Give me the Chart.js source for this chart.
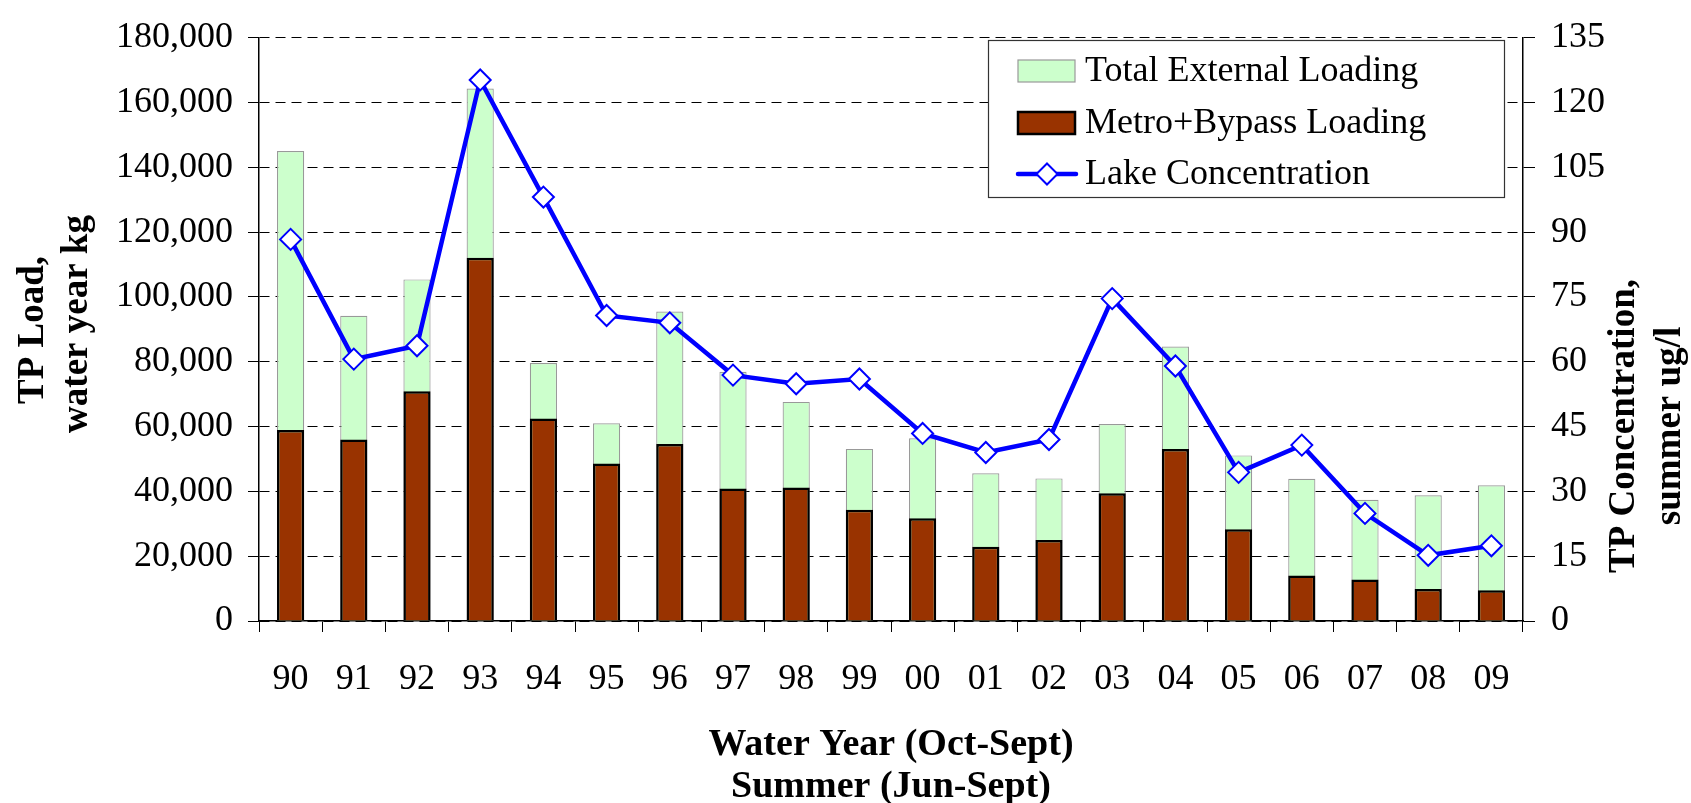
<!DOCTYPE html>
<html>
<head>
<meta charset="utf-8">
<title>TP Load and Lake Concentration</title>
<script src="https://cdn.jsdelivr.net/npm/chart.js@4.4.1/dist/chart.umd.min.js"></script>
<style>
  html, body { margin: 0; padding: 0; background: #fff; }
  canvas { display: block; }
</style>
</head>
<body>
<canvas id="tpChart" width="1691" height="803"></canvas>
<script>
// =========================
// DATA
// =========================
const years = ["90", "91", "92", "93", "94", "95", "96", "97", "98", "99",
               "00", "01", "02", "03", "04", "05", "06", "07", "08", "09"];

// kg per water year
const totalExternal = [145000, 94200, 105400, 164300, 79600, 61000, 95500, 76900, 67600, 53100,
                       56400, 45600, 44000, 60800, 84700, 51100, 43900, 37400, 38800, 41900];
const metroBypass = [58900, 56000, 70900, 112100, 62500, 48600, 54600, 40900, 41200, 34300,
                     31700, 22900, 25000, 39400, 53100, 28300, 14000, 12800, 9900, 9500];

// ug/l summer
const lakeConc = [88.3, 60.6, 63.7, 125.2, 98.1, 70.7, 69.0, 56.9, 54.9, 56.0,
                  43.4, 39.0, 42.0, 74.6, 59.0, 34.4, 40.7, 24.9, 15.2, 17.4];

const loadTicks = { min: 0, max: 180000, step: 20000 };
const concTicks = { min: 0, max: 135, step: 15 };

const FONT = '"Liberation Serif", "Times New Roman", serif';
const TICK_SIZE = 36;

// =========================
// TITLES + LEGEND PLUGIN
// =========================
const extrasPlugin = {
    id: "extras",
    afterDraw(chart) {
        const ctx = chart.ctx;
        const area = chart.chartArea;
        ctx.save();
        ctx.fillStyle = "#000";
        ctx.font = "bold 38px " + FONT;
        ctx.textAlign = "center";
        ctx.textBaseline = "middle";

        // x title
        const cx = (area.left + area.right) / 2;
        ctx.fillText("Water Year (Oct-Sept)", cx, 745);
        ctx.fillText("Summer (Jun-Sept)", cx, 787);

        // rotated titles
        function vText(txt, x, y) {
            ctx.save();
            ctx.translate(x, y);
            ctx.rotate(-Math.PI / 2);
            ctx.fillText(txt, 0, 0);
            ctx.restore();
        }
        ctx.font = "bold 37px " + FONT;
        vText("TP Load,", 33, 330);
        vText("water year kg", 77, 324);
        vText("TP Concentration,", 1624, 426);
        vText("summer ug/l", 1670, 426);

        // legend box
        const lx = 988, ly = 40, lw = 516, lh = 157;
        ctx.fillStyle = "#fff";
        ctx.fillRect(lx, ly, lw, lh);
        ctx.strokeStyle = "#333";
        ctx.lineWidth = 1.2;
        ctx.strokeRect(lx + 0.5, ly + 0.5, lw, lh);

        const ds = chart.data.datasets;
        const rows = [
            { ds: ds[2], y: 71 },
            { ds: ds[1], y: 123 },
            { ds: ds[0], y: 174 }
        ];
        ctx.font = TICK_SIZE + "px " + FONT;
        ctx.textAlign = "left";
        rows.forEach(r => {
            const d = r.ds;
            if (d.type === "line") {
                ctx.strokeStyle = d.borderColor;
                ctx.lineWidth = d.borderWidth;
                ctx.lineCap = "round";
                ctx.beginPath();
                ctx.moveTo(1018, r.y);
                ctx.lineTo(1076, r.y);
                ctx.stroke();
                ctx.fillStyle = d.pointBackgroundColor;
                ctx.strokeStyle = d.pointBorderColor;
                ctx.lineWidth = d.pointBorderWidth;
                ctx.beginPath();
                ctx.moveTo(1047, r.y - d.pointRadius);
                ctx.lineTo(1047 + d.pointRadius, r.y);
                ctx.lineTo(1047, r.y + d.pointRadius);
                ctx.lineTo(1047 - d.pointRadius, r.y);
                ctx.closePath();
                ctx.fill();
                ctx.stroke();
            } else {
                ctx.fillStyle = d.backgroundColor;
                ctx.fillRect(1018, r.y - 11, 57, 22);
                ctx.strokeStyle = d.borderColor;
                ctx.lineWidth = d.borderWidth;
                ctx.strokeRect(1018, r.y - 11, 57, 22);
            }
            ctx.fillStyle = "#000";
            ctx.fillText(d.label, 1085, r.y + 1);
        });
        ctx.restore();
    }
};

// =========================
// CHART
// =========================
const ctx = document.getElementById("tpChart").getContext("2d");

new Chart(ctx, {
    type: "bar",
    data: {
        labels: years,
        datasets: [
            {
                type: "line",
                label: "Lake Concentration",
                data: lakeConc,
                yAxisID: "y1",
                order: 0,
                borderColor: "#0000ff",
                borderWidth: 4.5,
                tension: 0,
                pointStyle: "rectRot",
                pointRadius: 10.5,
                pointBackgroundColor: "#ffffff",
                pointBorderColor: "#0000ff",
                pointBorderWidth: 2
            },
            {
                label: "Metro+Bypass Loading",
                data: metroBypass,
                yAxisID: "y",
                order: 1,
                grouped: false,
                backgroundColor: "#993300",
                borderColor: "#000000",
                borderWidth: 2.5,
                barPercentage: 0.43,
                categoryPercentage: 1.0
            },
            {
                label: "Total External Loading",
                data: totalExternal,
                yAxisID: "y",
                order: 2,
                grouped: false,
                backgroundColor: "#ccffcc",
                borderColor: "#999999",
                borderWidth: 1.2,
                barPercentage: 0.43,
                categoryPercentage: 1.0
            }
        ]
    },
    options: {
        responsive: false,
        animation: false,
        layout: { padding: { top: 27, left: 0, right: 0, bottom: 0 } },
        plugins: {
            legend: { display: false },
            tooltip: { enabled: false }
        },
        scales: {
            x: {
                offset: true,
                grid: {
                    offset: true,
                    drawOnChartArea: false,
                    drawTicks: true,
                    tickLength: 11,
                    tickColor: "#000",
                    tickWidth: 1
                },
                border: { display: true, color: "#000", width: 1.5 },
                ticks: { color: "#000", font: { family: FONT, size: TICK_SIZE }, padding: 26, maxRotation: 0 },
                afterFit(s) { s.height = 182; }
            },
            y: {
                position: "left",
                min: loadTicks.min,
                max: loadTicks.max,
                ticks: {
                    stepSize: loadTicks.step,
                    color: "#000",
                    font: { family: FONT, size: TICK_SIZE },
                    padding: 15,
                    callback: v => v.toLocaleString("en-US")
                },
                grid: {
                    color: "#000",
                    lineWidth: 1,
                    tickLength: 11,
                    tickColor: "#000",
                    tickBorderDash: []
                },
                border: { display: true, color: "#000", width: 1.5, dash: [10, 6] },
                afterFit(s) { s.width = 259; }
            },
            y1: {
                position: "right",
                min: concTicks.min,
                max: concTicks.max,
                ticks: {
                    stepSize: concTicks.step,
                    color: "#000",
                    font: { family: FONT, size: TICK_SIZE },
                    padding: 16
                },
                grid: {
                    drawOnChartArea: false,
                    tickLength: 12,
                    tickColor: "#000"
                },
                border: { display: true, color: "#000", width: 1.5 },
                afterFit(s) { s.width = 168; }
            }
        }
    },
    plugins: [extrasPlugin]
});
</script>
</body>
</html>
